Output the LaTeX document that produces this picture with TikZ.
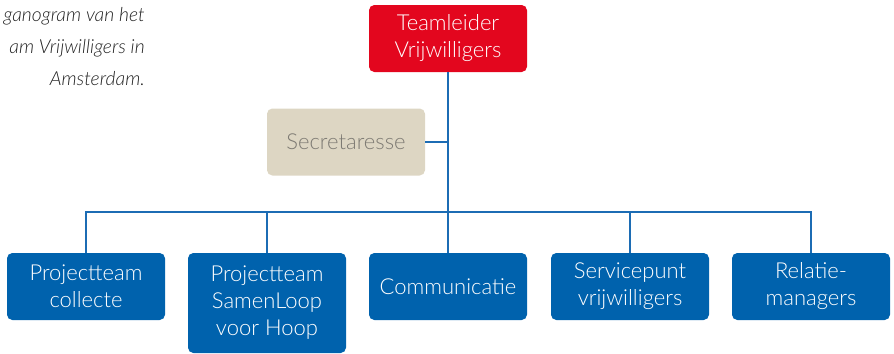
\documentclass[tikz,border=0pt]{standalone}
\usepackage{fontspec}
\setmainfont{Lato Light}[ItalicFont={Lato Light Italic}]
\usetikzlibrary{
    positioning,  % Relative positioning
    calc          % Coordinate calculations
}

\definecolor{leadred}{HTML}{E3061E}
\definecolor{teamblue}{HTML}{0062AD}
\definecolor{linkblue}{HTML}{1C6CB4}
\definecolor{staffbeige}{HTML}{DDD6C3}
\definecolor{staffgray}{HTML}{7D7A73}
\definecolor{captiongray}{HTML}{222222}

\tikzset{
    unit/.style={rounded corners=4pt, minimum width=118.5pt, minimum height=50.25pt,
        align=center, inner sep=2pt, font=\fontsize{16.5}{20.25}\selectfont},
    lead/.style={unit, fill=leadred, text=white},
    staff/.style={unit, fill=staffbeige, text=staffgray},
    team/.style={unit, fill=teamblue, text=white},
    link/.style={linkblue, line width=1.5pt}
}

\begin{document}
\begin{tikzpicture}[x=0.75pt,y=-0.75pt]
    \useasboundingbox (0,0) rectangle (894,354);
    % caption, cut off at the left edge
    \node[anchor=base east, align=right, text=captiongray, inner sep=0pt,
        font=\itshape\fontsize{14.5}{24}\selectfont] (caption) at (145,85)
        {ganogram van het\\am Vrijwilligers in\\Amsterdam.};
    % top of the chart
    \node[lead] (leider) at (448,38.5) {Teamleider\\Vrijwilligers};
    \node[staff] (secretaresse) at (346,142) {Secretaresse};
    \coordinate (bus) at (448,212);
    % teams
    \node[team] (collecte) at (86,286.5) {Projectteam\\collecte};
    \node[team, minimum height=75pt] (samenloop) at (267,303) {Projectteam\\SamenLoop\\voor Hoop};
    \node[team] (communicatie) at (448,286.5) {Communicatie};
    \node[team] (servicepunt) at (630,286.5) {Servicepunt\\vrijwilligers};
    \node[team] (relatie) at (811,286.5) {Relatie-\\managers};
    % lines
    \draw[link] (leider) -- (bus);
    \draw[link] (secretaresse) -- (secretaresse -| bus);
    \foreach \n in {collecte,samenloop,communicatie,servicepunt,relatie}
        \draw[link] (\n.north) |- (bus);
\end{tikzpicture}
\end{document}
